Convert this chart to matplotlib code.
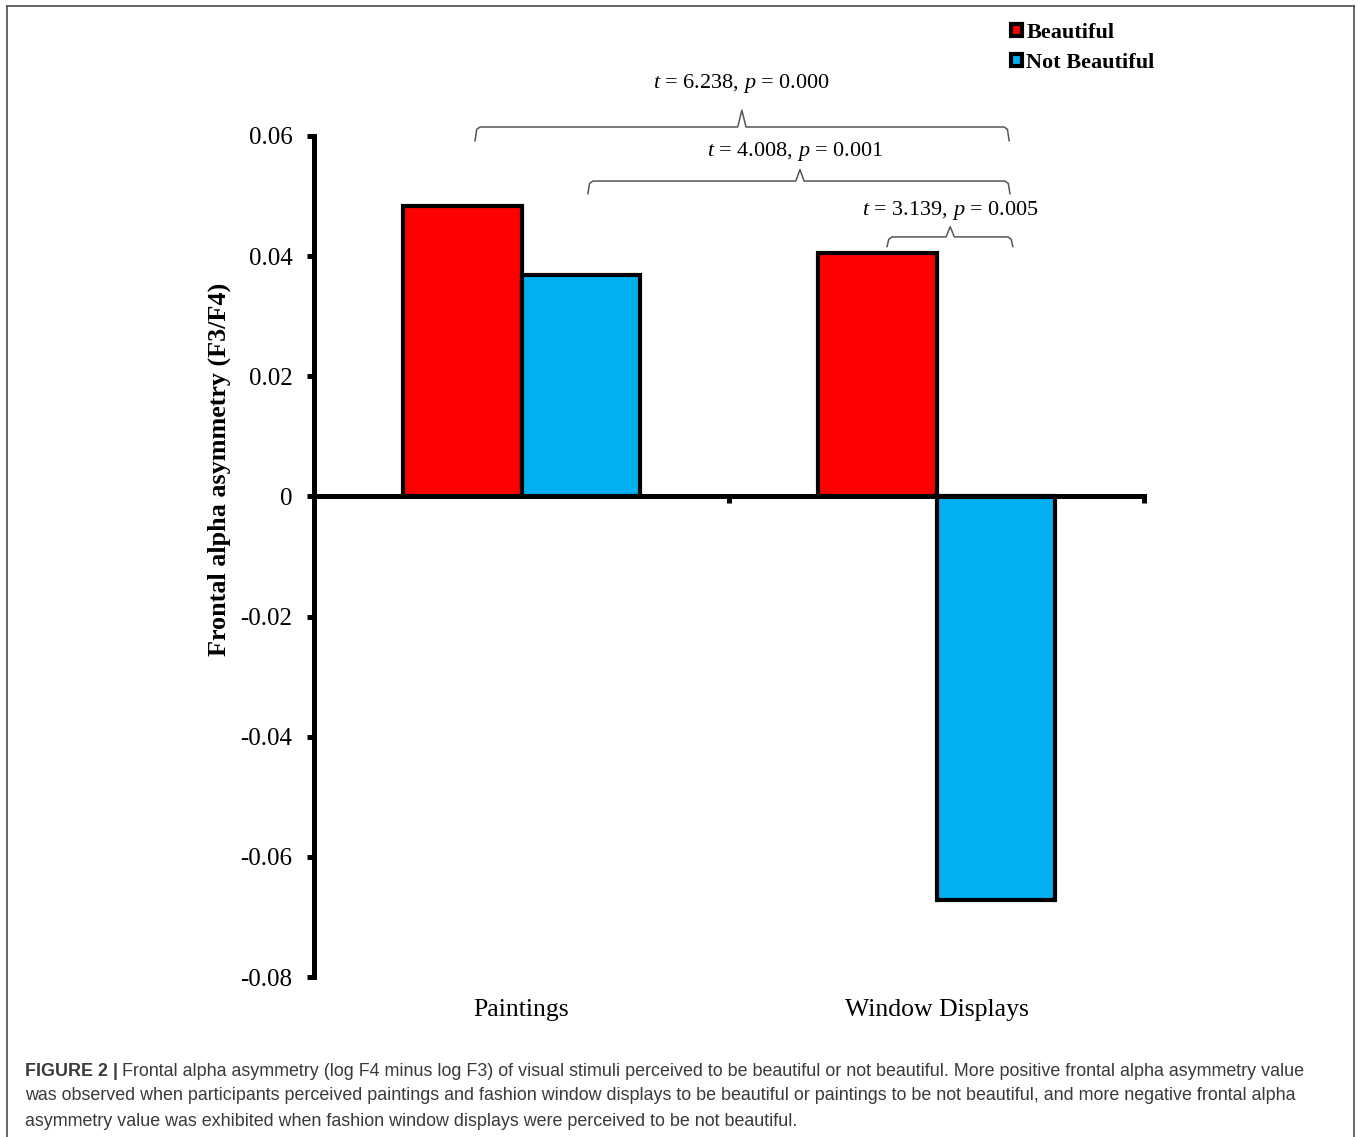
import matplotlib
matplotlib.use("Agg")
import matplotlib.pyplot as plt
from matplotlib.lines import Line2D
from matplotlib.patches import Patch
import numpy as np

# data
categories = ["Paintings", "Window Displays"]
beautiful = [0.0483, 0.0405]
not_beautiful = [0.0368, -0.0672]
y_ticks = [-0.08, -0.06, -0.04, -0.02, 0, 0.02, 0.04, 0.06]
y_tick_labels = ["-0.08", "-0.06", "-0.04", "-0.02", "0", "0.02", "0.04", "0.06"]

# comparison brackets: (left x, right x, peak x, level y, label)
brackets = [
    (-0.112, 1.175, 0.531, 0.0615, r"$t$ = 6.238, $p$ = 0.000"),
    (0.160, 1.177, 0.671, 0.0525, r"$t$ = 4.008, $p$ = 0.001"),
    (0.881, 1.184, 1.033, 0.0432, r"$t$ = 3.139, $p$ = 0.005"),
]
bracket_text_x = [0.529, 0.659, 1.033]
bracket_text_y = [0.0688, 0.0574, 0.0476]

caption_bold = "FIGURE 2 |"
caption_lines = [
    "Frontal alpha asymmetry (log F4 minus log F3) of visual stimuli perceived to be beautiful or not beautiful. More positive frontal alpha asymmetry value",
    "was observed when participants perceived paintings and fashion window displays to be beautiful or paintings to be not beautiful, and more negative frontal alpha",
    "asymmetry value was exhibited when fashion window displays were perceived to be not beautiful.",
]

plt.rcParams["font.family"] = ["Liberation Serif", "DejaVu Serif"]
plt.rcParams["mathtext.fontset"] = "custom"
plt.rcParams["mathtext.rm"] = "Liberation Serif"
plt.rcParams["mathtext.it"] = "Liberation Serif:italic"

W, H = 1358, 1137
fig = plt.figure(figsize=(W / 100, H / 100), dpi=100)
ax = fig.add_axes([314 / W, 1 - 977 / H, 830 / W, 841 / H])

red = "#FF0000"
blue = "#00B0F0"
w = 0.285
x = np.arange(len(categories))
ax.bar(x - w / 2, beautiful, w, color=red, edgecolor="black", lw=3, label="Beautiful", zorder=2)
ax.bar(x + w / 2, not_beautiful, w, color=blue, edgecolor="black", lw=3, label="Not Beautiful", zorder=2)

ax.set_xlim(-0.5, 1.5)
ax.set_ylim(-0.08, 0.06)
for s in ["top", "right"]:
    ax.spines[s].set_visible(False)
ax.spines["bottom"].set_position(("data", 0))
ax.spines["bottom"].set_linewidth(3.6)
ax.spines["left"].set_linewidth(3.6)
ax.spines["bottom"].set_zorder(3)

ax.set_yticks(y_ticks)
ax.set_yticklabels(y_tick_labels, fontsize=18)
ax.set_xticks([-0.5, 0.5, 1.5])
ax.set_xticklabels([])
ax.tick_params(axis="y", length=5, width=3.6, pad=10.5)
ax.tick_params(axis="x", length=5, width=3.6, direction="out")

for i, name in enumerate(categories):
    ax.text(i, -0.0855, name, ha="center", va="center", fontsize=18.5, clip_on=False)

ax.set_ylabel("Frontal alpha asymmetry (F3/F4)", fontsize=18.8, fontweight="bold")
ax.yaxis.set_label_coords(-0.100, 0.604)

# brackets
rises = [0.0028, 0.0019, 0.0017]
drops = [0.0023, 0.0021, 0.0016]
for (x0, x1, xm, yh, label), tx, ty, rise, drop in zip(brackets, bracket_text_x, bracket_text_y, rises, drops):
    bx = [x0, x0 + 0.004, x0 + 0.012, xm - 0.01, xm, xm + 0.01, x1 - 0.012, x1 - 0.004, x1]
    by = [yh - drop, yh - 0.0004, yh, yh, yh + rise, yh, yh, yh - 0.0004, yh - drop]
    ax.plot(bx, by, color="#555555", lw=1.1, clip_on=False, zorder=4)
    ax.text(tx, ty, label, ha="center", va="center", fontsize=16, clip_on=False)

ax.legend(handles=[Patch(facecolor=red, edgecolor="black", lw=3, label="Beautiful"),
                   Patch(facecolor=blue, edgecolor="black", lw=3, label="Not Beautiful")],
          loc="upper left", bbox_to_anchor=(1000 / W, 1 - 12 / H), bbox_transform=fig.transFigure,
          frameon=False, handlelength=0.48, handleheight=0.48, handletextpad=0.2,
          labelspacing=0.45, borderpad=0, prop={"weight": "bold", "size": 16})

# figure frame
fc = "#4d4d4d"
fig.add_artist(Line2D([7 / W, 1354 / W], [1 - 6 / H, 1 - 6 / H], color=fc, lw=1.2))
fig.add_artist(Line2D([7 / W, 7 / W], [0, 1 - 6 / H], color=fc, lw=1.2))
fig.add_artist(Line2D([1354 / W, 1354 / W], [0, 1 - 6 / H], color=fc, lw=1.2))

# caption
cap_font = ["Liberation Sans", "DejaVu Sans"]
cap_color = "#3a3a3a"
cap_size = 12.9
ys = [1071, 1096, 1121]
t0 = fig.text(25 / W, 1 - ys[0] / H, caption_bold, fontsize=cap_size, fontweight="bold",
              family=cap_font, color=cap_color, va="center")
ax.annotate(caption_lines[0], xy=(1, 0.5), xycoords=t0, xytext=(3, 0), textcoords="offset points",
            va="center", ha="left", fontsize=cap_size, family=cap_font, color=cap_color,
            annotation_clip=False)
for line, yy in zip(caption_lines[1:], ys[1:]):
    fig.text(25 / W, 1 - yy / H, line, fontsize=cap_size, family=cap_font, color=cap_color, va="center")

fig.savefig("out.png", dpi=100)
